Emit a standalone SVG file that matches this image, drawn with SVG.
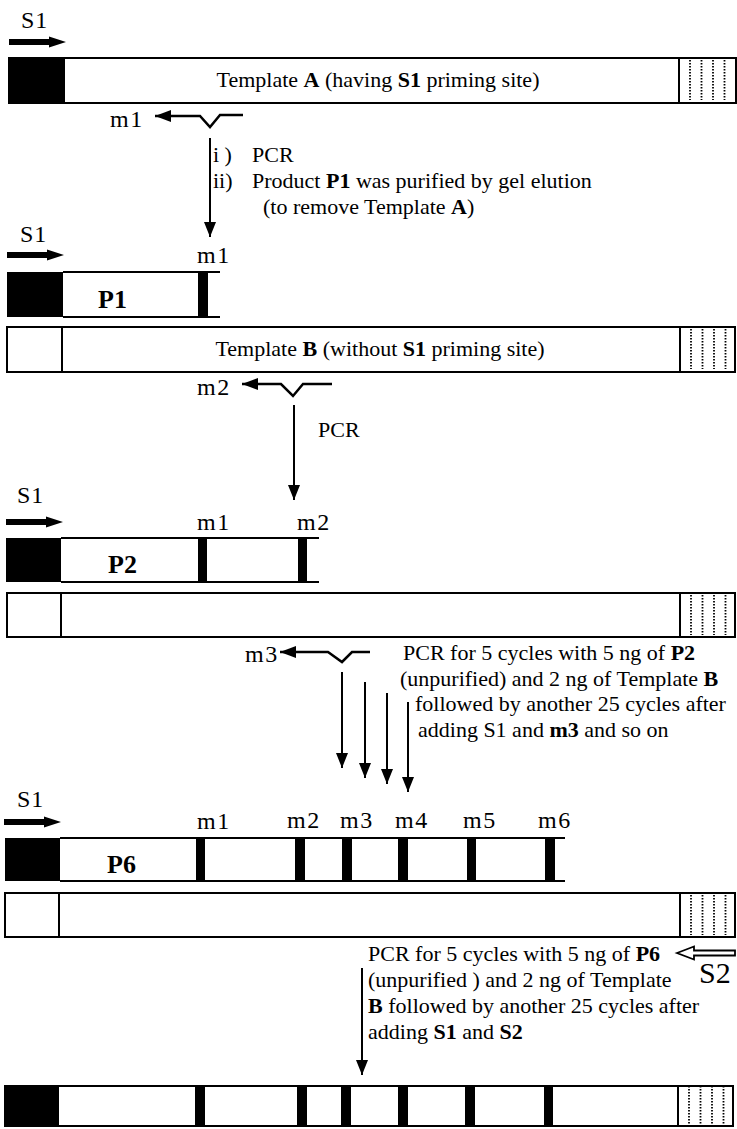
<svg xmlns="http://www.w3.org/2000/svg" width="737" height="1129" viewBox="0 0 737 1129">
<defs>
<style>
text{font-family:"Liberation Serif","Times New Roman",serif;fill:#000}
.t{font-size:22px}
.lab{font-size:24px;letter-spacing:1.5px}
.s1{font-size:24px;letter-spacing:1px}
.pl{font-size:26px;font-weight:bold}
.b{font-weight:bold}
.box{fill:#fff;stroke:#000;stroke-width:2}
.blk{fill:#000}
.ln{stroke:#000;stroke-width:2;fill:none}
.dot{stroke:#000;stroke-width:1.8;stroke-dasharray:1.6 1.4}
.arr{stroke:#000;stroke-width:2;fill:none;marker-end:url(#ah)}
.pr{stroke:#000;stroke-width:2.5;fill:none;marker-start:url(#ph)}
.hol{fill:#fff;stroke:#000;stroke-width:1.8}
</style>
<marker id="ah" markerUnits="userSpaceOnUse" viewBox="0 0 15 12" refX="15" refY="6" markerWidth="15" markerHeight="12" orient="auto"><path d="M0,0 L15,6 L0,12 Z" fill="#000"/></marker>
<marker id="ph" markerUnits="userSpaceOnUse" viewBox="0 0 16 12" refX="16" refY="6" markerWidth="16" markerHeight="12" orient="auto-start-reverse"><path d="M0,0 L16,6 L0,12 Z" fill="#000"/></marker>
<path id="s1arrow" d="M0,-3 H40 V-5.5 L57,0 L40,5.5 V3 H0 Z" fill="#000"/>
<g id="dots"><line class="dot" x1="11" y1="2" x2="11" y2="42"/><line class="dot" x1="22.5" y1="2" x2="22.5" y2="42"/><line class="dot" x1="34" y1="2" x2="34" y2="42"/><line class="dot" x1="45.5" y1="2" x2="45.5" y2="42"/></g>
</defs>

<g id="templateA">
<text class="s1" x="21" y="28">S1</text>
<use href="#s1arrow" x="9" y="42"/>
<rect class="box" x="9" y="58" width="727" height="45"/>
<rect class="blk" x="9" y="58" width="56" height="45"/>
<line class="ln" x1="679" y1="58" x2="679" y2="103"/>
<use href="#dots" x="679" y="58"/>
<text class="t" x="378" y="87" text-anchor="middle">Template <tspan class="b">A</tspan> (having <tspan class="b">S1</tspan> priming site)</text>
</g>

<g id="primer-m1">
<text class="lab" x="110" y="127">m1</text>
<path class="pr" d="M155,116 H200 L210,127 L220,115 H243"/>
</g>

<g id="step1-text">
<text class="t" x="213" y="162">i )</text><text class="t" x="252" y="162">PCR</text>
<text class="t" x="213" y="188">ii)</text><text class="t" x="252" y="188">Product <tspan class="b">P1</tspan> was purified by gel elution</text>
<text class="t" x="263" y="214">(to remove Template <tspan class="b">A</tspan>)</text>
</g>

<g id="productP1">
<text class="s1" x="20" y="242">S1</text>
<use href="#s1arrow" x="7" y="255"/>
<rect class="blk" x="7" y="272" width="56" height="45"/>
<path class="ln" d="M63,272 H220 M63,317 H220"/>
<rect class="blk" x="198" y="272" width="10" height="45"/>
<text class="pl" x="98" y="308">P1</text>
<text class="lab" x="197" y="263">m1</text>
</g>

<g id="templateB1">
<rect class="box" x="7" y="327" width="728" height="45"/>
<line class="ln" x1="62" y1="327" x2="62" y2="372"/>
<line class="ln" x1="680" y1="327" x2="680" y2="372"/>
<use href="#dots" x="680" y="327"/>
<text class="t" x="380" y="356" text-anchor="middle">Template <tspan class="b">B</tspan> (without <tspan class="b">S1</tspan> priming site)</text>
</g>

<g id="primer-m2">
<text class="lab" x="197" y="395">m2</text>
<path class="pr" d="M242,384 H281 L293,396 L303,384 H332"/>
</g>

<g id="step2-text">
<text class="t" x="318" y="437">PCR</text>
</g>

<g id="productP2">
<text class="s1" x="17" y="503">S1</text>
<use href="#s1arrow" x="6" y="522"/>
<rect class="blk" x="6" y="538" width="55" height="44"/>
<path class="ln" d="M61,538 H319 M61,582 H319"/>
<rect class="blk" x="198" y="538" width="9" height="44"/>
<rect class="blk" x="298" y="538" width="9" height="44"/>
<text class="pl" x="108" y="573">P2</text>
<text class="lab" x="197" y="530">m1</text>
<text class="lab" x="297" y="530">m2</text>
</g>

<g id="templateB2">
<rect class="box" x="7" y="593" width="728" height="44"/>
<line class="ln" x1="61" y1="593" x2="61" y2="637"/>
<line class="ln" x1="680" y1="593" x2="680" y2="637"/>
<use href="#dots" x="680" y="593"/>
</g>

<g id="primer-m3">
<text class="lab" x="245" y="662">m3</text>
<path class="pr" d="M280,652 H328 L342,662 L352,652 H370"/>
</g>

<g id="step3-text">
<text class="t" x="403" y="660">PCR for 5 cycles with 5 ng of <tspan class="b">P2</tspan></text>
<text class="t" x="400" y="686">(unpurified) and 2 ng of Template <tspan class="b">B</tspan></text>
<text class="t" x="415" y="711">followed by another 25 cycles after</text>
<text class="t" x="418" y="737">adding S1 and <tspan class="b">m3</tspan> and so on</text>
</g>

<g id="productP6">
<text class="s1" x="17" y="807">S1</text>
<use href="#s1arrow" x="4" y="822"/>
<rect class="blk" x="5" y="838" width="55" height="43"/>
<path class="ln" d="M60,838 H565 M60,881 H565"/>
<rect class="blk" x="196" y="838" width="9" height="43"/>
<rect class="blk" x="295" y="838" width="10" height="43"/>
<rect class="blk" x="342" y="838" width="10" height="43"/>
<rect class="blk" x="398" y="838" width="10" height="43"/>
<rect class="blk" x="467" y="838" width="9" height="43"/>
<rect class="blk" x="545" y="838" width="10" height="43"/>
<text class="pl" x="107" y="873">P6</text>
<text class="lab" x="197" y="829">m1</text>
<text class="lab" x="287" y="828">m2</text>
<text class="lab" x="340" y="828">m3</text>
<text class="lab" x="395" y="828">m4</text>
<text class="lab" x="463" y="828">m5</text>
<text class="lab" x="538" y="828">m6</text>
</g>

<g id="templateB3">
<rect class="box" x="5" y="893" width="730" height="44"/>
<line class="ln" x1="59" y1="893" x2="59" y2="937"/>
<line class="ln" x1="680" y1="893" x2="680" y2="937"/>
<use href="#dots" x="680" y="893"/>
</g>

<g id="primer-S2">
<path class="hol" d="M677,953 L694,946.5 V950.5 H735 V955.5 H694 V959.5 Z"/>
<text x="699" y="983" style="font-size:30px">S2</text>
</g>

<g id="step4-text">
<text class="t" x="368" y="961">PCR for 5 cycles with 5 ng of <tspan class="b">P6</tspan></text>
<text class="t" x="368" y="987">(unpurified ) and 2 ng of Template</text>
<text class="t" x="368" y="1013"><tspan class="b">B</tspan> followed by another 25 cycles after</text>
<text class="t" x="368" y="1039">adding <tspan class="b">S1</tspan> and <tspan class="b">S2</tspan></text>
</g>

<g id="finalProduct">
<rect class="box" x="5" y="1086" width="728" height="40"/>
<rect class="blk" x="5" y="1086" width="54" height="40"/>
<rect class="blk" x="195" y="1086" width="10" height="40"/>
<rect class="blk" x="297" y="1086" width="10" height="40"/>
<rect class="blk" x="341" y="1086" width="10" height="40"/>
<rect class="blk" x="398" y="1086" width="10" height="40"/>
<rect class="blk" x="465" y="1086" width="10" height="40"/>
<rect class="blk" x="544" y="1086" width="9" height="40"/>
<line class="ln" x1="678" y1="1086" x2="678" y2="1126"/>
<use href="#dots" x="678" y="1084"/>
</g>

<g id="connectors">
<line class="arr" x1="210" y1="138" x2="210" y2="237"/>
<line class="arr" x1="294" y1="405" x2="294" y2="500"/>
<line class="arr" x1="342" y1="672" x2="342" y2="768"/>
<line class="arr" x1="365" y1="682" x2="365" y2="778"/>
<line class="arr" x1="387" y1="693" x2="387" y2="784"/>
<line class="arr" x1="408" y1="702" x2="408" y2="792"/>
<line class="arr" x1="362" y1="968" x2="362" y2="1075"/>
</g>
</svg>
